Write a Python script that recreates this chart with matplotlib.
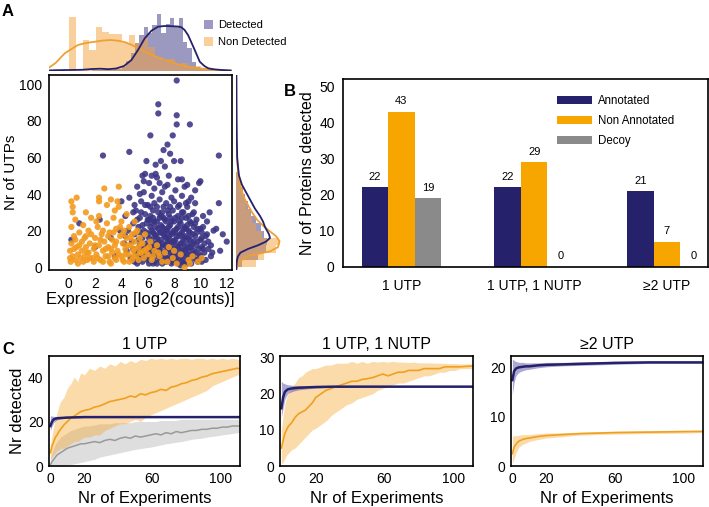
import numpy as np
import matplotlib
matplotlib.use('Agg')
import matplotlib.pyplot as plt
from matplotlib.patches import Patch

plt.rcParams['font.family'] = ['Liberation Sans', 'DejaVu Sans']

# ---------------- panel A data ----------------
# detected proteins: (expression, nr of UTPs)
det_pts = [
    (0.2, 15), (0.8, 24), (2.0, 11), (2.35, 26), (2.6, 61), (3.2, 16), (3.5, 6), (3.9, 20), (4.0, 36), (4.2, 13),
    (4.3, 28), (4.4, 9), (4.6, 63), (4.6, 38), (4.7, 5), (4.8, 14), (4.9, 24),
    (5.0, 3), (5.0, 18), (5.1, 31), (5.2, 9), (5.2, 44), (5.3, 22), (5.4, 12), (5.4, 27), (5.5, 6), (5.5, 36),
    (5.6, 50), (5.6, 16), (5.7, 20), (5.7, 41), (5.8, 51), (5.8, 8), (5.8, 29), (5.9, 58), (5.9, 13), (5.9, 24),
    (6.0, 4), (6.0, 34), (6.0, 18), (6.1, 10), (6.1, 46), (6.2, 72), (6.2, 22), (6.2, 28), (6.3, 7), (6.3, 15),
    (6.3, 39), (6.4, 2), (6.4, 19), (6.4, 31), (6.5, 11), (6.5, 25), (6.5, 43), (6.6, 51), (6.6, 56), (6.6, 6),
    (6.6, 17), (6.7, 49), (6.7, 13), (6.7, 33), (6.8, 89), (6.8, 84), (6.8, 21), (6.8, 9), (6.9, 27), (6.9, 37),
    (6.9, 4), (7.0, 58), (7.0, 15), (7.0, 23), (7.0, 11), (7.1, 30), (7.1, 7), (7.1, 41), (7.2, 64), (7.2, 18),
    (7.2, 3), (7.3, 55), (7.3, 26), (7.3, 12), (7.4, 35), (7.4, 9), (7.4, 20), (7.5, 67), (7.5, 45), (7.5, 14),
    (7.5, 5), (7.6, 29), (7.6, 17), (7.7, 62), (7.7, 23), (7.7, 8), (7.8, 38), (7.8, 12), (7.8, 2), (7.9, 72),
    (7.9, 19), (7.9, 31), (8.0, 58), (8.0, 10), (8.0, 25), (8.0, 6), (8.1, 15), (8.1, 42), (8.2, 102), (8.2, 83),
    (8.2, 78), (8.2, 21), (8.2, 3), (8.3, 48), (8.3, 28), (8.3, 11), (8.4, 17), (8.4, 34), (8.4, 7), (8.5, 58),
    (8.5, 1), (8.5, 24), (8.5, 13), (8.6, 39), (8.6, 19), (8.6, 9), (8.7, 30), (8.7, 4), (8.7, 15), (8.8, 22),
    (8.8, 11), (8.8, 44), (8.9, 27), (8.9, 6), (8.9, 17), (9.0, 45), (9.0, 13), (9.0, 33), (9.0, 2), (9.1, 20),
    (9.1, 9), (9.2, 78), (9.2, 25), (9.2, 15), (9.3, 2), (9.3, 38), (9.3, 11), (9.4, 18), (9.4, 29), (9.5, 5),
    (9.5, 22), (9.5, 14), (9.6, 35), (9.6, 8), (9.7, 19), (9.7, 26), (9.8, 14), (9.8, 3), (9.9, 46), (9.9, 10),
    (10.0, 47), (10.0, 21), (10.0, 6), (10.1, 11), (10.1, 16), (10.2, 22), (10.2, 28), (10.3, 8), (10.3, 13),
    (10.4, 4), (10.5, 25), (10.5, 18), (10.6, 10), (10.7, 30), (10.8, 12), (10.8, 6), (11.0, 20), (11.2, 21),
    (11.4, 61), (11.4, 35), (11.5, 9), (11.7, 18), (12.0, 14),
    (5.3, 15), (5.6, 10), (6.1, 26), (6.3, 20), (6.7, 16), (6.9, 12), (7.2, 27), (7.4, 16), (7.6, 10), (7.7, 33),
    (8.1, 19), (8.3, 5), (8.6, 27), (8.9, 21), (9.1, 16), (9.4, 7), (9.6, 24), (10.1, 19), (7.9, 14), (6.5, 8),
    (5.1, 7), (5.2, 26), (5.3, 4), (5.4, 19), (5.5, 30), (5.6, 3), (5.6, 23), (5.7, 11), (5.8, 34), (5.9, 5),
    (5.9, 19), (6.0, 12), (6.0, 26), (6.1, 2), (6.1, 16), (6.2, 33), (6.2, 9), (6.3, 24), (6.3, 11), (6.4, 6),
    (6.4, 13), (6.4, 27), (6.5, 3), (6.5, 18), (6.5, 35), (6.6, 10), (6.6, 22), (6.7, 7), (6.7, 25), (6.7, 2),
    (6.8, 14), (6.8, 30), (6.9, 19), (6.9, 9), (7.0, 5), (7.0, 19), (7.0, 28), (7.1, 13), (7.1, 22), (7.1, 2),
    (7.2, 8), (7.2, 33), (7.3, 17), (7.3, 6), (7.3, 21), (7.4, 3), (7.4, 12), (7.4, 25), (7.5, 9), (7.5, 20),
    (7.5, 31), (7.6, 4), (7.6, 13), (7.6, 22), (7.7, 15), (7.7, 27), (7.8, 6), (7.8, 18), (7.8, 25), (7.9, 9),
    (7.9, 3), (8.0, 14), (8.0, 20), (8.0, 36), (8.1, 4), (8.1, 8), (8.1, 27), (8.2, 12), (8.2, 17), (8.3, 2),
    (8.3, 22), (8.3, 33), (8.4, 10), (8.4, 25), (8.5, 6), (8.5, 18), (8.6, 3), (8.6, 13), (8.6, 30), (8.7, 8),
    (8.7, 21), (8.8, 2), (8.8, 16), (8.9, 10), (8.9, 35), (9.0, 7), (9.0, 23), (9.1, 4), (9.1, 28), (9.2, 11),
    (9.2, 19), (9.3, 6), (9.3, 24), (9.4, 13), (9.5, 9), (9.5, 30), (9.6, 17), (9.7, 4), (9.7, 12), (9.8, 21),
    (9.9, 7), (10.0, 15), (10.1, 3), (10.2, 10), (10.4, 17), (10.6, 14), (10.9, 8), (9.6, 42), (9.1, 36),
    (8.6, 48), (7.6, 50), (7.3, 44), (6.9, 46), (6.3, 50), (5.7, 47), (5.4, 40), (5.0, 34), (4.9, 30), (4.5, 20),
    (4.3, 17), (4.9, 10), (5.2, 2),
]
# non detected proteins
non_pts = [
    (0.1, 5), (0.1, 9), (0.2, 13), (0.2, 22), (0.3, 30), (0.3, 33), (0.3, 6), (0.4, 17), (0.5, 4), (0.5, 26),
    (0.6, 38), (0.6, 11), (0.7, 7), (0.8, 19), (0.9, 5), (1.0, 14), (1.0, 9), (1.1, 23), (1.2, 6), (1.3, 17),
    (1.3, 11), (1.4, 4), (1.5, 20), (1.5, 8), (1.6, 13), (1.7, 27), (1.8, 5), (1.9, 10), (2.0, 16), (2.1, 7),
    (2.2, 22), (2.3, 38), (2.3, 36), (2.3, 12), (2.4, 4), (2.5, 18), (2.6, 9), (2.7, 43), (2.7, 14), (2.8, 6),
    (2.9, 34), (2.9, 24), (3.0, 11), (3.1, 3), (3.1, 19), (3.2, 37), (3.3, 8), (3.3, 15), (3.4, 27), (3.5, 5),
    (3.5, 12), (3.6, 21), (3.7, 36), (3.7, 9), (3.8, 44), (3.8, 33), (3.9, 17), (4.0, 6), (4.0, 25), (4.1, 13),
    (4.2, 3), (4.2, 20), (4.3, 10), (4.4, 29), (4.4, 16), (4.5, 7), (4.6, 22), (4.7, 12), (4.8, 4), (4.8, 18),
    (4.9, 9), (5.0, 25), (5.0, 14), (5.1, 6), (5.2, 20), (5.3, 11), (5.4, 16), (5.5, 8), (5.6, 13), (5.7, 5),
    (5.8, 18), (5.9, 10), (6.0, 7), (6.2, 14), (6.3, 4), (6.5, 9), (6.7, 12), (6.9, 6), (7.1, 3), (7.3, 8),
    (7.6, 11), (7.9, 5), (8.2, 2), (8.5, 7), (8.8, 0), (9.1, 4), (9.4, 6), (9.8, 3), (10.1, 5),
    (0.15, 3), (0.4, 10), (0.5, 15), (0.7, 2), (0.8, 12), (1.1, 3), (1.2, 16), (1.4, 8), (1.6, 5), (1.7, 18),
    (1.9, 3), (2.0, 12), (2.1, 25), (2.2, 5), (2.4, 15), (2.6, 3), (2.6, 20), (2.8, 10), (3.0, 6), (3.0, 17),
    (3.2, 2), (3.2, 10), (3.4, 19), (3.6, 4), (3.6, 14), (3.8, 7), (3.9, 22), (4.1, 4), (4.1, 18), (4.3, 7),
    (4.5, 12), (4.6, 3), (4.7, 16), (4.9, 6), (5.0, 10), (5.1, 19), (5.3, 4), (5.4, 8), (5.5, 13), (5.7, 9),
    (6.1, 11), (6.4, 6), (6.8, 8), (7.5, 3), (8.0, 9), (9.2, 2), (2.3, 28), (1.3, 30), (3.5, 31), (0.2, 36),
]

# top marginal histogram (bar heights, px-scaled density)
non_hist_left = 0.05
non_hist_w = 0.5
non_hist_h = [54, 0, 31, 21, 44, 39, 37, 37, 28, 36, 28, 33, 24, 14, 10, 12, 6, 8, 4, 5, 2, 3, 1]
det_hist_left = 1.74
det_hist_w = 0.33
det_hist_h = [1, 1, 1, 2, 1, 2, 2, 4, 10, 18, 28, 36, 44, 38, 46, 57, 38, 47, 53, 44, 53, 29, 23, 9, 4, 2, 1, 1,
              0.5, 0.5]
# top marginal kde
non_kde_x = [-1.7, -1.0, -0.3, 0.2, 0.7, 1.3, 2.0, 2.6, 3.2, 3.8, 4.3, 4.8, 5.3, 5.8, 6.3, 6.8, 7.3, 7.8, 8.3,
             8.8, 9.3, 10.0, 10.8, 11.5, 12.3]
non_kde_h = [1.5, 8, 17.7, 22, 26, 28, 29.3, 30.5, 31, 30.2, 28.7, 26, 22.7, 19.3, 16, 13.5, 11, 8.8, 6.7, 5,
             3.7, 2.5, 1.5, 0.8, 0.4]
det_kde_x = [-1.6, -1.0, 0, 1, 1.8, 2.4, 3.0, 3.6, 4.2, 4.76, 5.26, 5.77, 6.28, 6.78, 7.29, 7.8, 8.3, 8.56, 8.8,
             9.06, 9.3, 9.57, 9.95, 10.3, 10.6, 11.0, 11.6, 12.3]
det_kde_h = [0.5, 0.8, 1, 1.2, 2, 2.3, 1.8, 2.5, 5, 11, 21, 32.7, 40.3, 44.3, 45, 44.8, 44.5, 43.7, 41, 36, 29,
             21, 9.3, 5, 2.7, 1.7, 1, 0.5]

# right marginal
utp_bins = [0, 4, 8, 12, 16, 20, 24, 28, 32, 36, 40, 44, 48]
non_rhist_w = [20, 28, 40, 43, 26, 20, 16, 14, 10, 8, 7, 5, 3]
det_rhist_w = [6, 22, 30, 31, 28, 25, 20, 15, 12, 9, 7, 5, 3]
non_rkde_y = [-1, 2, 3.3, 6, 8.7, 11, 14.2, 17, 20, 22.4, 26, 30, 33.3, 38, 44.3, 50, 58.8, 70, 90, 105]
non_rkde_w = [0.5, 2, 4.3, 11, 34, 42, 43.6, 40, 33, 27.6, 21, 16, 12.6, 8, 4.3, 2.5, 1, 0.5, 0.3, 0.2]
det_rkde_y = [-1, 2, 4, 6, 8, 10, 12, 14, 16, 18, 20, 22, 25, 28, 32, 36, 40, 45, 50, 55, 60, 70, 80, 90, 105]
det_rkde_w = [0.3, 0.6, 1, 2, 4.5, 12, 22, 30, 34, 33, 31, 29, 27, 24, 19, 15, 11, 6, 3, 2, 1.2, 0.8, 0.6, 0.5,
              0.4]

# ---------------- panel B data ----------------
groups = ['1 UTP', '1 UTP, 1 NUTP', '≥2 UTP']
annotated = [22, 22, 21]
non_annotated = [43, 29, 7]
decoy = [19, 0, 0]

# ---------------- panel C data ----------------
exp_x = [0, 1, 2, 3, 4, 5, 6, 8, 10, 12, 14, 16, 18, 20, 23, 26, 29, 32, 35, 38, 41, 44, 47, 50, 53, 56, 59, 62,
         65, 68, 71, 74, 77, 80, 83, 86, 89, 92, 95, 98, 101, 104, 107, 110, 112]
c1_non = [6, 9, 11, 13, 14, 15.5, 16.5, 18.5, 20, 21.5, 22.5, 23.5, 24.5, 25, 25.5, 26.5, 27, 28, 29, 29.5, 30,
          30.5, 31.5, 31, 32.5, 32, 33, 33.5, 34.5, 34, 35.5, 36, 37, 37.5, 38.5, 39, 40, 40.5, 41.5, 42, 42.5,
          43, 43.5, 44, 43.5]
c1_non_hi = [9, 14, 18, 21, 24, 27, 29, 31, 35, 37, 40, 38, 42, 41, 44, 43, 45, 44, 46, 45, 47, 46, 47.5, 46.5,
             48, 47.5, 48.5, 48, 48.5, 48, 48.5, 48, 48.5, 48.5, 48, 48.5, 48.5, 48, 48.5, 48, 48.5, 48, 48.5,
             48, 48]
c1_non_lo = [3, 4, 5, 6, 7, 7, 8, 8, 9, 10, 11, 11, 12, 13, 13, 14, 14, 16, 17, 18, 19, 19, 20, 21, 20, 22, 23,
             24, 25, 26, 27, 28, 29, 30, 31, 32, 33, 34, 36, 37, 38, 39, 40, 41, 41]
c1_dec = [0.5, 2, 3, 4, 5, 5.5, 6, 7, 8, 8.5, 9, 9.5, 10, 10, 10.5, 11, 10.5, 11.5, 12, 11.5, 12.5, 13, 12.5,
          13.5, 13, 13.5, 14, 14.5, 14, 15, 14.5, 15.5, 15, 15.5, 16, 16, 16.5, 16.5, 17, 17, 17.5, 17.5, 18,
          18, 18]
c1_dec_hi = [3, 6, 8, 10, 11, 12, 13, 14, 15, 16, 16.5, 17, 17.5, 18, 18, 18.5, 19, 19, 19, 19.5, 19.5, 19.5,
             19.5, 20, 20, 20, 20, 20, 20.5, 20.5, 20.5, 20.5, 21, 21, 21, 21, 21, 21, 21, 21, 21, 21, 21, 21,
             21]
c1_dec_lo = [0, 0, 0, 0, 0, 0, 0, 0.3, 0.5, 0.7, 1, 1.3, 1.6, 2, 2.5, 3, 4, 4.5, 5, 5.5, 6, 6.5, 7, 7.5, 7.8,
             8.2, 8.5, 9, 9.5, 10, 10.3, 10.7, 11, 11.5, 12, 12.3, 12.5, 13, 13.3, 13.6, 14, 14.3, 14.6, 15, 15]
c2_non = [5, 7, 9, 10, 11, 11.5, 12, 13.5, 14.5, 15, 15.5, 16.5, 17.5, 19, 20, 21, 21.5, 22, 22.5, 23, 23.5,
          23.5, 24, 24.2, 24.5, 25, 25.5, 25, 25.5, 26, 26, 26.5, 26.5, 26.5, 27, 27, 27, 27, 27.5, 27.5, 27.5,
          27.5, 27.6, 27.7, 27.7]
c2_non_hi = [10, 14, 17, 19, 20, 21, 22, 23, 24.5, 25, 26, 26.5, 27, 27, 27.5, 28, 28, 28.5, 28.5, 28.5, 29,
             28.5, 29, 28.5, 29, 28.8, 29, 28.8, 29, 28.8, 28.8, 28.7, 28.8, 28.6, 28.6, 28.6, 28.5, 28.5, 28.5,
             28.4, 28.4, 28.3, 28.3, 28.3, 28.3]
c2_non_lo = [0.5, 1, 2, 3, 3.5, 4, 4.5, 5, 6, 7, 8, 9, 10, 10.5, 11.5, 12.5, 14, 15, 16, 17, 17.5, 18.5, 19,
             19.5, 20, 21, 21.5, 22, 22.5, 23, 23, 23.5, 24, 24.5, 25, 25, 25.5, 26, 26, 26.5, 26.5, 27, 27, 27,
             27]

flat_x = [0, 1, 2, 3, 4, 6, 8, 10, 15, 20, 30, 40, 60, 80, 100, 112]
c1_ann = [18, 20, 21, 21.3, 21.5, 21.6, 21.7, 21.8, 21.9, 22, 22, 22, 22, 22, 22, 22]
c1_ann_hi = [22.5, 22.5, 22.3, 22.3, 22.2, 22.2, 22.2, 22.2, 22.2, 22.2, 22.2, 22.2, 22.2, 22.2, 22.2, 22.2]
c1_ann_lo = [16, 18, 19.5, 20.3, 20.8, 21.2, 21.4, 21.6, 21.7, 21.8, 21.9, 21.9, 21.9, 21.9, 21.9, 21.9]
c2_ann = [16, 19, 20.5, 21, 21.3, 21.5, 21.6, 21.7, 21.8, 21.9, 22, 22, 22, 22, 22, 22]
c2_ann_hi = [23.5, 23, 22.8, 22.6, 22.5, 22.4, 22.3, 22.3, 22.2, 22.2, 22.2, 22.2, 22.1, 22.1, 22.1, 22.1]
c2_ann_lo = [13.5, 16, 18.5, 19.5, 20.2, 20.6, 20.9, 21.1, 21.4, 21.6, 21.8, 21.8, 21.9, 21.9, 21.9, 21.9]
c3_ann = [17.5, 19.3, 19.8, 20, 20.1, 20.2, 20.3, 20.3, 20.5, 20.6, 20.7, 20.8, 21, 21.1, 21.1, 21.1]
c3_ann_hi = [21.8, 21.5, 21.3, 21.2, 21.1, 21.1, 21, 21, 21, 21.1, 21.1, 21.2, 21.3, 21.3, 21.3, 21.3]
c3_ann_lo = [14.5, 17, 18.3, 18.8, 19.1, 19.4, 19.6, 19.7, 20, 20.2, 20.4, 20.5, 20.7, 20.9, 20.9, 20.9]
c3_non = [2.5, 3.8, 4.4, 4.8, 5.1, 5.4, 5.6, 5.7, 6, 6.2, 6.4, 6.6, 6.8, 6.9, 7, 7.05]
c3_non_hi = [6, 6.2, 6.2, 6.2, 6.3, 6.4, 6.4, 6.4, 6.6, 6.7, 6.8, 6.9, 7.1, 7.2, 7.3, 7.3]
c3_non_lo = [0.5, 1.5, 2.6, 3.3, 3.9, 4.4, 4.7, 5, 5.4, 5.7, 6, 6.3, 6.5, 6.6, 6.7, 6.8]

# colours
PURPLE = '#3a3484'
NAVY = '#25216a'
ORANGE = '#f39a1e'
BAR_ORANGE = '#f7a600'
GREY = '#8a8a8a'

W, H = 709, 507


def px_axes(x0, y0, x1, y1):
    # axes from pixel box (top-left origin)
    return fig.add_axes([x0 / W, 1 - y1 / H, (x1 - x0) / W, (y1 - y0) / H])


def frame(ax):
    for s in ax.spines.values():
        s.set_linewidth(1.2)
        s.set_color('black')


fig = plt.figure(figsize=(W / 100, H / 100), dpi=100)

# ---------- A: scatter ----------
ax_a = px_axes(49, 75, 232, 270)
ax_a.scatter([p[0] for p in det_pts], [p[1] for p in det_pts], s=20, color=PURPLE, alpha=0.88,
             edgecolors='none', zorder=2)
ax_a.scatter([p[0] for p in non_pts], [p[1] for p in non_pts], s=20, color=ORANGE, alpha=0.9,
             edgecolors='none', zorder=3)
ax_a.set_xlim(-1.5, 12.4)
ax_a.set_ylim(-1.5, 105)
ax_a.set_xticks(range(0, 13, 2))
ax_a.set_yticks(range(0, 101, 20))
ax_a.tick_params(length=0, labelsize=10, pad=5)
ax_a.set_xlabel('Expression [log2(counts)]', fontsize=12, labelpad=1)
ax_a.set_ylabel('Nr of UTPs', fontsize=11, labelpad=1)
frame(ax_a)

# top marginal
ax_t = px_axes(49, 12, 232, 71)
ax_t.bar([det_hist_left + i * det_hist_w for i in range(len(det_hist_h))], det_hist_h, width=det_hist_w,
         align='edge', color=PURPLE, alpha=0.5, linewidth=0)
ax_t.bar([non_hist_left + i * non_hist_w for i in range(len(non_hist_h))], non_hist_h, width=non_hist_w,
         align='edge', color='#f5a03a', alpha=0.5, linewidth=0)
ax_t.plot(non_kde_x, non_kde_h, color='#f0a030', lw=1.3)
ax_t.plot(det_kde_x, det_kde_h, color=NAVY, lw=1.3)
ax_t.set_xlim(-1.5, 12.4)
ax_t.set_ylim(0, 59)
ax_t.axis('off')

# right marginal
ax_r = px_axes(236, 75, 292, 270)
ax_r.barh(utp_bins, det_rhist_w, height=4, align='edge', color=PURPLE, alpha=0.5, linewidth=0)
ax_r.barh(utp_bins, non_rhist_w, height=4, align='edge', color='#f5a03a', alpha=0.5, linewidth=0)
ax_r.plot(non_rkde_w, non_rkde_y, color='#f0a030', lw=1.3)
ax_r.plot(det_rkde_w, det_rkde_y, color=NAVY, lw=1.3)
ax_r.set_ylim(-1.5, 105)
ax_r.set_xlim(0, 56)
ax_r.axis('off')

fig.legend(handles=[Patch(facecolor='#9d99c4', label='Detected'),
                    Patch(facecolor='#fbcf9a', label='Non Detected')],
           loc='upper left', bbox_to_anchor=(204 / W, 1 - 20 / H), frameon=False, fontsize=8,
           handlelength=0.85, handleheight=0.85, handletextpad=0.4, labelspacing=0.6, borderpad=0,
           borderaxespad=0)

# ---------- B: bars ----------
ax_b = px_axes(343, 79, 708, 267)
xpos = np.arange(len(groups))
bw = 0.2
b1 = ax_b.bar(xpos - bw, annotated, width=bw, color=NAVY, label='Annotated')
b2 = ax_b.bar(xpos, non_annotated, width=bw, color=BAR_ORANGE, label='Non Annotated')
b3 = ax_b.bar(xpos + bw, decoy, width=bw, color=GREY, label='Decoy')
for bars in (b1, b2, b3):
    ax_b.bar_label(bars, padding=4, fontsize=8)
ax_b.set_xlim(-0.44, 2.31)
ax_b.set_ylim(0, 52)
ax_b.set_xticks(xpos)
ax_b.set_xticklabels(groups, fontsize=11.5)
ax_b.set_yticks(range(0, 51, 10))
ax_b.tick_params(length=0, labelsize=10, pad=6)
ax_b.tick_params(axis='x', pad=9)
ax_b.set_ylabel('Nr of Proteins detected', fontsize=11.5, labelpad=3)
ax_b.legend(loc='upper left', bbox_to_anchor=(0.575, 0.94), frameon=False, fontsize=8.3, handlelength=3.0,
            handleheight=0.7, handletextpad=0.5, labelspacing=0.7, borderaxespad=0)
frame(ax_b)

# ---------- C: saturation curves ----------
C_LIGHT_OR = '#f7a62a'
C_LIGHT_PU = '#5a52a8'

ax_c1 = px_axes(49, 356, 240, 466)
ax_c1.fill_between(exp_x, c1_dec_lo, c1_dec_hi, color='#c8c8c8', alpha=0.6, linewidth=0)
ax_c1.fill_between(exp_x, c1_non_lo, c1_non_hi, color=C_LIGHT_OR, alpha=0.4, linewidth=0)
ax_c1.fill_between(flat_x, c1_ann_lo, c1_ann_hi, color=C_LIGHT_PU, alpha=0.5, linewidth=0)
ax_c1.plot(exp_x, c1_dec, color='#999999', lw=1.1)
ax_c1.plot(exp_x, c1_non, color='#f0a020', lw=1.2)
ax_c1.plot(flat_x, c1_ann, color=NAVY, lw=1.8)
ax_c1.set_ylim(0, 49.5)
ax_c1.set_yticks([0, 20, 40])
ax_c1.set_ylabel('Nr detected', fontsize=12, labelpad=2)
ax_c1.set_title('1 UTP', fontsize=11.5, pad=5)

ax_c2 = px_axes(280, 356, 473, 466)
ax_c2.fill_between(exp_x, c2_non_lo, c2_non_hi, color=C_LIGHT_OR, alpha=0.4, linewidth=0)
ax_c2.fill_between(flat_x, c2_ann_lo, c2_ann_hi, color=C_LIGHT_PU, alpha=0.5, linewidth=0)
ax_c2.plot(exp_x, c2_non, color='#f0a020', lw=1.2)
ax_c2.plot(flat_x, c2_ann, color=NAVY, lw=1.8)
ax_c2.set_ylim(0, 30.5)
ax_c2.set_yticks([0, 10, 20, 30])
ax_c2.set_title('1 UTP, 1 NUTP', fontsize=11.5, pad=5)

ax_c3 = px_axes(511, 356, 703, 466)
ax_c3.fill_between(flat_x, c3_non_lo, c3_non_hi, color=C_LIGHT_OR, alpha=0.4, linewidth=0)
ax_c3.fill_between(flat_x, c3_ann_lo, c3_ann_hi, color=C_LIGHT_PU, alpha=0.5, linewidth=0)
ax_c3.plot(flat_x, c3_non, color='#f0a020', lw=1.2)
ax_c3.plot(flat_x, c3_ann, color=NAVY, lw=1.8)
ax_c3.set_ylim(0, 22.4)
ax_c3.set_yticks([0, 10, 20])
ax_c3.set_title('≥2 UTP', fontsize=11.5, pad=5)

for ax in (ax_c1, ax_c2, ax_c3):
    ax.set_xlim(-0.8, 111.5)
    ax.set_xticks([0, 20, 60, 100])
    ax.tick_params(length=0, labelsize=10, pad=4)
    ax.set_xlabel('Nr of Experiments', fontsize=12, labelpad=4)
    frame(ax)

# panel letters
fig.text(2 / W, 1 - 4 / H, 'A', fontsize=12, fontweight='bold', va='top')
fig.text(284 / W, 1 - 84 / H, 'B', fontsize=12, fontweight='bold', va='top')
fig.text(2 / W, 1 - 342 / H, 'C', fontsize=12, fontweight='bold', va='top')

fig.savefig('out.png', dpi=100)
